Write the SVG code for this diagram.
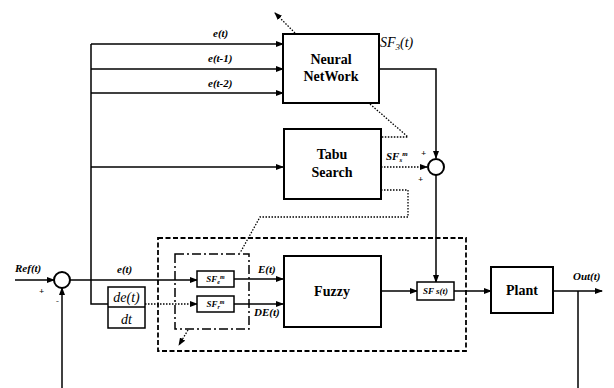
<svg xmlns="http://www.w3.org/2000/svg" width="614" height="388" viewBox="0 0 614 388">
<style>
.box{fill:#fff;stroke:#000;stroke-width:2}
.sbox{fill:#fff;stroke:#000;stroke-width:1.5}
.ln{fill:none;stroke:#000;stroke-width:1.5}
.dot{fill:none;stroke:#000;stroke-width:1.3;stroke-dasharray:1.5 1.5}
.dash{fill:none;stroke:#000;stroke-width:1.8;stroke-dasharray:5 2.5}
.dd{fill:none;stroke:#000;stroke-width:1.5;stroke-dasharray:9 3 2 3}
.bt{font-family:"Liberation Serif",serif;font-weight:bold;font-size:14px;text-anchor:middle}
.lb{font-family:"Liberation Serif",serif;font-weight:bold;font-style:italic;font-size:11px}
.sl{font-family:"Liberation Serif",serif;font-weight:bold;font-style:italic;font-size:9px}
.mt{font-family:"Liberation Serif",serif;font-style:italic;font-size:14px}
</style>
<defs>
<marker id="ah" markerWidth="8" markerHeight="6" refX="7" refY="3" orient="auto" markerUnits="userSpaceOnUse">
<path d="M0,0 L8,3 L0,6 Z" fill="#000"/>
</marker>
</defs>
<g id="connectors">
<path class="ln" d="M91,44 V304 H108"/>
<path class="ln" d="M91,44 H283" marker-end="url(#ah)"/>
<path class="ln" d="M91,69 H283" marker-end="url(#ah)"/>
<path class="ln" d="M91,93 H283" marker-end="url(#ah)"/>
<path class="ln" d="M91,167 H283" marker-end="url(#ah)"/>
<path class="ln" d="M379,69 H436 V158" marker-end="url(#ah)"/>
<path class="dot" d="M295,33 L275,13" marker-end="url(#ah)"/>
<path class="dot" d="M370,104 L408,137 H381"/>
<path class="dot" d="M381,167 H427" marker-end="url(#ah)"/>
<path class="dot" d="M381,190 H408 V217 H260 L240,253"/>
<path class="ln" d="M436,175 V282" marker-end="url(#ah)"/>
<path class="ln" d="M15,280 H54" marker-end="url(#ah)"/>
<path class="ln" d="M70,280 H197" marker-end="url(#ah)"/>
<path class="dot" d="M145,304 H197" marker-end="url(#ah)"/>
<path class="ln" d="M234,279 H283" marker-end="url(#ah)"/>
<path class="ln" d="M234,304 H283" marker-end="url(#ah)"/>
<path class="ln" d="M381,291 H417" marker-end="url(#ah)"/>
<path class="ln" d="M454,291 H491" marker-end="url(#ah)"/>
<path class="ln" d="M553,291 H602" marker-end="url(#ah)"/>
<path class="ln" d="M578,291 V388"/>
<path class="ln" d="M62,388 V288" marker-end="url(#ah)"/>
<rect class="dash" x="158" y="238" width="308" height="113"/>
<rect class="dd" x="175" y="254" width="74" height="75"/>
<path class="dot" d="M188,330 L179,345" marker-end="url(#ah)"/>
</g>
<g id="nn">
<rect class="box" x="283" y="34" width="96" height="69"/>
<text class="bt" x="331" y="64">Neural</text>
<text class="bt" x="331" y="81">NetWork</text>
</g>
<g id="tabu">
<rect class="box" x="284" y="129" width="97" height="70"/>
<text class="bt" x="332" y="159">Tabu</text>
<text class="bt" x="332" y="177">Search</text>
</g>
<g id="fuzzy">
<rect class="box" x="284" y="256" width="97" height="71"/>
<text class="bt" x="332" y="296">Fuzzy</text>
</g>
<g id="plant">
<rect class="box" x="491" y="267" width="62" height="46"/>
<text class="bt" x="522" y="295">Plant</text>
</g>
<g id="sum2">
<circle cx="436" cy="167" r="8" fill="#fff" stroke="#000" stroke-width="2"/>
</g>
<g id="sum1">
<circle cx="62" cy="280" r="8" fill="#fff" stroke="#000" stroke-width="2"/>
</g>
<g id="deriv">
<rect class="sbox" x="108" y="287" width="37" height="41"/>
<line x1="108" y1="307" x2="145" y2="307" stroke="#000" stroke-width="1.5"/>
<text class="mt" x="126.5" y="302" text-anchor="middle">de(t)</text>
<text class="mt" x="126.5" y="324" text-anchor="middle">dt</text>
</g>
<g id="sfe">
<rect class="sbox" x="197" y="271" width="37" height="16"/>
<text class="sl" x="215.5" y="282" text-anchor="middle">SF<tspan font-size="6" dy="2">e</tspan><tspan font-size="6" dy="-5">m</tspan></text>
</g>
<g id="sfr">
<rect class="sbox" x="197" y="296" width="37" height="16"/>
<text class="sl" x="215.5" y="307" text-anchor="middle">SF<tspan font-size="6" dy="2">r</tspan><tspan font-size="6" dy="-5">m</tspan></text>
</g>
<g id="sft">
<rect class="sbox" x="417" y="282" width="37" height="18"/>
<text class="sl" x="435.5" y="294" text-anchor="middle">SF s(t)</text>
</g>
<g id="labels">
<text class="lb" x="213" y="37">e(t)</text>
<text class="lb" x="208" y="62">e(t-1)</text>
<text class="lb" x="208" y="87">e(t-2)</text>
<text class="mt" x="380" y="47">SF<tspan font-size="9" dy="3">3</tspan><tspan dy="-3">(t)</tspan></text>
<text class="lb" x="386" y="160" font-size="11">SF<tspan font-size="7" dy="2">s</tspan><tspan font-size="7" dy="-6">m</tspan></text>
<text class="sl" x="421" y="156">+</text>
<text class="sl" x="418" y="182">+</text>
<text class="lb" x="15" y="272">Ref(t)</text>
<text class="sl" x="39" y="294">+</text>
<text class="sl" x="56" y="304">-</text>
<text class="lb" x="117" y="273">e(t)</text>
<text class="lb" x="258" y="273">E(t)</text>
<text class="lb" x="254" y="316">DE(t)</text>
<text class="lb" x="573" y="280">Out(t)</text>
</g>
</svg>
